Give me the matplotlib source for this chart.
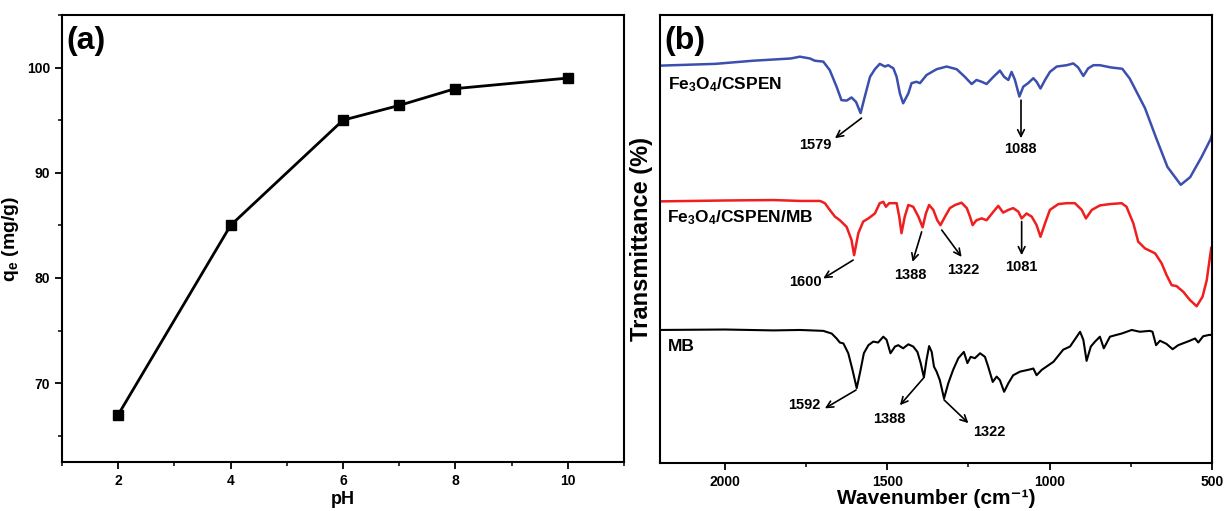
import matplotlib
matplotlib.use("Agg")
import matplotlib.pyplot as plt
from matplotlib.ticker import MultipleLocator

plt.rcParams["font.family"] = ["Liberation Sans", "DejaVu Sans"]
plt.rcParams["font.weight"] = "bold"
plt.rcParams["mathtext.fontset"] = "custom"
plt.rcParams["mathtext.rm"] = "Liberation Sans:bold"
plt.rcParams["mathtext.bf"] = "Liberation Sans:bold"
plt.rcParams["mathtext.it"] = "Liberation Sans:bold"

# (a) adsorption capacity vs pH
ph = [2, 4, 6, 7, 8, 10]
qe = [67.0, 85.0, 95.0, 96.4, 98.0, 99.0]

# (b) FTIR spectra, transmittance in arbitrary units (offset traces)
wn_cspen = [2200, 2029, 1913, 1797, 1769, 1738, 1723, 1697, 1677, 1656, 1641, 1625, 1610,
            1596, 1582, 1569, 1553, 1538, 1523, 1507, 1497, 1481, 1471, 1461, 1451, 1435,
            1425, 1410, 1399, 1379, 1348, 1317, 1286, 1261, 1240, 1225, 1209, 1194, 1173,
            1153, 1140, 1127, 1117, 1107, 1093, 1081, 1066, 1050, 1040, 1028, 1014, 999,
            978, 947, 927, 912, 896, 881, 865, 845, 811, 776, 753, 706, 672, 637, 596,
            567, 532, 504, 500]
t_cspen = [88.7, 89.1, 89.8, 90.3, 90.7, 90.3, 89.8, 89.6, 87.7, 84.0, 81.0, 80.9, 81.6,
           80.6, 78.1, 81.8, 86.2, 87.9, 89.1, 88.5, 88.8, 88.1, 86.2, 82.5, 80.3, 82.5,
           84.8, 85.1, 84.8, 86.6, 87.9, 88.5, 87.9, 86.2, 84.6, 85.5, 85.1, 84.6, 86.2,
           87.6, 86.2, 85.5, 87.3, 85.6, 81.8, 84.0, 84.8, 85.9, 85.1, 83.6, 85.5, 87.3,
           88.5, 88.8, 89.2, 88.3, 86.4, 88.1, 88.8, 88.8, 88.3, 88.0, 85.8, 79.2, 72.6,
           66.1, 62.1, 63.8, 68.3, 72.3, 73.2]

wn_cspen_mb = [2200, 2000, 1850, 1769, 1707, 1692, 1677, 1661, 1646, 1625, 1610, 1602, 1589,
               1574, 1558, 1538, 1523, 1512, 1504, 1494, 1471, 1463, 1456, 1446, 1435, 1420,
               1404, 1391, 1381, 1371, 1358, 1346, 1336, 1322, 1307, 1291, 1271, 1255, 1245,
               1237, 1225, 1209, 1194, 1173, 1158, 1143, 1127, 1112, 1096, 1086, 1071, 1055,
               1040, 1028, 1014, 999, 973, 947, 922, 901, 888, 870, 845, 814, 778, 763, 742,
               727, 706, 675, 655, 640, 624, 609, 588, 568, 547, 529, 516, 506, 502]
t_cspen_mb = [58.4, 58.6, 58.7, 58.5, 58.5, 58.0, 56.5, 55.0, 54.2, 52.7, 49.8, 46.4, 51.3,
              53.9, 54.6, 55.7, 58.0, 58.3, 57.2, 58.0, 58.0, 55.0, 51.3, 55.0, 57.6, 57.2,
              55.0, 52.6, 55.7, 57.6, 56.5, 54.2, 53.1, 55.0, 56.9, 57.6, 58.1, 56.9, 55.0,
              53.1, 54.2, 54.6, 54.2, 56.1, 57.4, 55.9, 56.5, 56.9, 56.1, 54.6, 55.7, 55.0,
              53.1, 50.5, 53.5, 56.5, 57.8, 58.0, 58.0, 56.5, 54.6, 56.5, 57.5, 57.8, 58.0,
              57.2, 53.5, 49.4, 47.9, 46.8, 44.6, 42.0, 39.7, 39.5, 38.2, 36.4, 35.0, 37.1,
              40.8, 46.0, 48.0]

wn_mb = [2200, 2000, 1850, 1769, 1697, 1671, 1656, 1646, 1635, 1620, 1607, 1594, 1582, 1572,
         1558, 1543, 1528, 1512, 1502, 1490, 1476, 1466, 1451, 1435, 1420, 1407, 1397, 1387,
         1379, 1371, 1363, 1356, 1348, 1338, 1325, 1312, 1297, 1281, 1264, 1253, 1243, 1230,
         1214, 1199, 1189, 1175, 1163, 1153, 1140, 1127, 1112, 1091, 1060, 1050, 1040, 1024,
         988, 958, 937, 906, 896, 886, 873, 860, 845, 833, 814, 794, 778, 747, 722, 691,
         683, 672, 660, 640, 621, 604, 568, 552, 542, 527, 508, 500]
t_mb = [29.7, 29.8, 29.6, 29.7, 29.5, 28.9, 27.8, 26.9, 26.7, 24.5, 20.8, 16.7, 20.8, 24.5,
        26.3, 27.1, 26.9, 28.2, 27.5, 24.5, 26.0, 26.3, 25.6, 26.5, 26.0, 24.8, 22.3, 19.1,
        23.0, 26.1, 24.8, 21.5, 20.4, 18.5, 14.4, 17.8, 20.8, 23.4, 24.8, 22.3, 23.7, 23.4,
        24.5, 23.7, 21.5, 18.1, 19.3, 18.5, 15.9, 17.8, 19.6, 20.4, 20.9, 21.1, 19.6, 20.8,
        22.6, 25.3, 26.0, 29.3, 27.5, 22.8, 26.0, 27.1, 28.2, 25.6, 28.2, 28.6, 28.9, 29.7,
        29.3, 29.5, 29.3, 26.3, 27.3, 26.6, 25.4, 26.3, 27.3, 27.8, 26.9, 28.3, 28.6, 28.6]

# peak labels: (text, peak wavenumber, peak T, arrow head wn, arrow head T, label wn, label T)
peaks = [
    ("1579", 1579, 77.0, 1661, 72.5, 1723, 71.0),
    ("1088", 1088, 81.0, 1088, 72.5, 1091, 70.0),
    ("1600", 1605, 45.3, 1697, 41.2, 1753, 40.5),
    ("1388", 1394, 51.6, 1422, 44.9, 1430, 42.0),
    ("1322", 1332, 52.0, 1271, 46.0, 1266, 43.1),
    ("1081", 1086, 53.9, 1086, 46.4, 1088, 43.7),
    ("1592", 1596, 16.3, 1692, 12.2, 1756, 12.9),
    ("1388", 1389, 18.9, 1461, 12.9, 1494, 9.8),
    ("1322", 1325, 14.1, 1250, 8.9, 1186, 7.0),
]

fig = plt.figure(figsize=(12.31, 5.11), dpi=100)
ax1 = fig.add_axes([0.0504, 0.0959, 0.4565, 0.8748])
ax2 = fig.add_axes([0.5361, 0.0939, 0.4484, 0.8767])

for ax in (ax1, ax2):
    for s in ax.spines.values():
        s.set_linewidth(1.5)
    ax.tick_params(which="major", direction="out", length=5, width=1.3, labelsize=10)
    ax.tick_params(which="minor", direction="out", length=3, width=1.1)
    ax.tick_params(top=False, right=False)

# --- panel (a)
ax1.plot(ph, qe, color="black", lw=2, marker="s", markersize=6.5)
ax1.set_xlim(1, 11)
ax1.set_ylim(62.5, 105)
ax1.set_xticks([2, 4, 6, 8, 10])
ax1.xaxis.set_minor_locator(MultipleLocator(1))
ax1.set_yticks([70, 80, 90, 100])
ax1.yaxis.set_minor_locator(MultipleLocator(5))
ax1.set_xlabel("pH", fontsize=13, fontweight="bold", labelpad=2)
ax1.set_ylabel(r"q$_\mathregular{e}$ (mg/g)", fontsize=14, fontweight="bold", labelpad=4)
ax1.text(0.008, 0.975, "(a)", transform=ax1.transAxes, fontsize=23, fontweight="bold",
         va="top", ha="left")

# --- panel (b)
ax2.plot(wn_cspen, t_cspen, color="#3b4fae", lw=1.8)
ax2.plot(wn_cspen_mb, t_cspen_mb, color="#f01e1e", lw=1.8)
ax2.plot(wn_mb, t_mb, color="black", lw=1.5)
ax2.set_xlim(2200, 500)
ax2.set_ylim(0, 100)
ax2.set_xticks([2000, 1500, 1000, 500])
ax2.xaxis.set_minor_locator(MultipleLocator(250))
ax2.set_yticks([])
ax2.set_xlabel("Wavenumber (cm\u207b\u00b9)", fontsize=15, fontweight="bold", labelpad=0)
ax2.set_ylabel("Transmittance (%)", fontsize=17, fontweight="bold", labelpad=5)
ax2.text(0.008, 0.975, "(b)", transform=ax2.transAxes, fontsize=23, fontweight="bold",
         va="top", ha="left")

ax2.text(2175, 84.4, r"Fe$_3$O$_4$/CSPEN", fontsize=12.5, fontweight="bold", va="center")
ax2.text(2178, 54.7, r"Fe$_3$O$_4$/CSPEN/MB", fontsize=12.5, fontweight="bold", va="center")
ax2.text(2175, 25.9, "MB", fontsize=12.5, fontweight="bold", va="center")

for lab, px, py, hx, hy, tx, ty in peaks:
    ax2.annotate("", xy=(hx, hy), xytext=(px, py),
                 arrowprops=dict(arrowstyle="->", lw=1.2, color="black",
                                 shrinkA=0, shrinkB=0, mutation_scale=12))
    ax2.text(tx, ty, lab, fontsize=10.5, fontweight="bold", ha="center", va="center")

fig.savefig("out.png", dpi=100)
